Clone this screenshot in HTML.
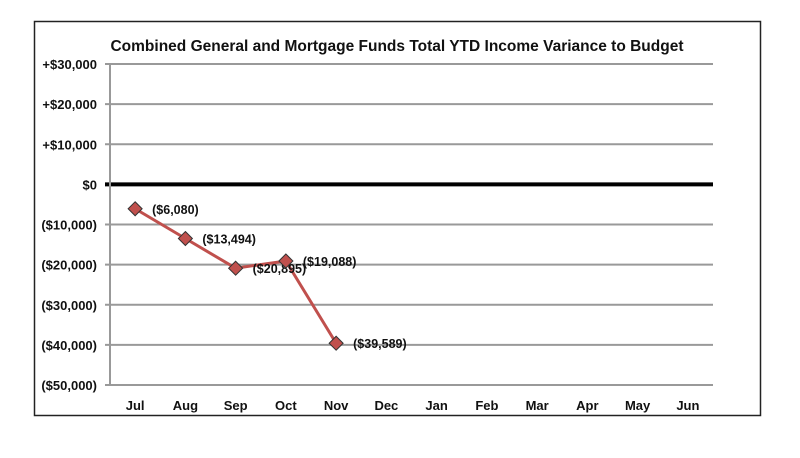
<!DOCTYPE html>
<html><head><meta charset="utf-8"><style>
html,body{margin:0;padding:0;background:#fff;}
svg{display:block;font-family:"Liberation Sans",sans-serif;font-weight:bold;}
</style></head><body>
<svg width="800" height="458" viewBox="0 0 800 458">
<rect x="34.5" y="21.5" width="726" height="394" fill="#fff" stroke="#222" stroke-width="1.5"/>
<text x="397" y="51" text-anchor="middle" font-size="15.5" fill="#111">Combined General and Mortgage Funds Total YTD Income Variance to Budget</text>
<g id="grid"></g><g id="series"></g>
</svg>
<script>
const categories=["Jul","Aug","Sep","Oct","Nov","Dec","Jan","Feb","Mar","Apr","May","Jun"];
const values=[-6080,-13494,-20895,-19088,-39589];
const labels=["($6,080)","($13,494)","($20,895)","($19,088)","($39,589)"];
const yTicks=[30000,20000,10000,0,-10000,-20000,-30000,-40000,-50000];
const yTickLabels=["+$30,000","+$20,000","+$10,000","$0","($10,000)","($20,000)","($30,000)","($40,000)","($50,000)"];
const NS="http://www.w3.org/2000/svg";
const x0=110,x1=713,yTop=64,yBot=385,vMax=30000,vMin=-50000;
const bw=(x1-x0)/categories.length;
function xs(i){return x0+bw*(i+0.5);}
function ys(v){return yTop+(vMax-v)/(vMax-vMin)*(yBot-yTop);}
function mk(t,a,p){const e=document.createElementNS(NS,t);for(const k in a)e.setAttribute(k,a[k]);p.appendChild(e);return e;}
const g=document.getElementById('grid'),s=document.getElementById('series');
yTicks.forEach((v,i)=>{
  const y=ys(v);
  const l=mk('line',{x1:105,x2:x1,y1:y,y2:y,stroke:v===0?'#000':'#999','stroke-width':v===0?4:2},g);
  
  
  const t=mk('text',{x:97,y:y+5,'text-anchor':'end','font-size':13,fill:'#111'},g);
  t.textContent=yTickLabels[i];
  
  
});
const ax=mk('line',{x1:x0,x2:x0,y1:yTop,y2:yBot,stroke:'#999','stroke-width':2},g);


categories.forEach((c,i)=>{
  const t=mk('text',{x:xs(i),y:410,'text-anchor':'middle','font-size':13,fill:'#111'},g);
  t.textContent=c;
  
  
});
const pts=values.map((v,i)=>xs(i)+','+ys(v)).join(' ');
const pl=mk('polyline',{points:pts,fill:'none',stroke:'#c0504d','stroke-width':3},s);


values.forEach((v,i)=>{
  const x=xs(i),y=ys(v);
  const d=mk('polygon',{points:`${x},${y-7} ${x+7},${y} ${x},${y+7} ${x-7},${y}`,fill:'#c0504d',stroke:'#333','stroke-width':1},s);
  
  
  const t=mk('text',{x:x+17,y:y+5,'font-size':12.5,fill:'#111'},s);
  t.textContent=labels[i];
  
  
});
</script>
</body></html>
